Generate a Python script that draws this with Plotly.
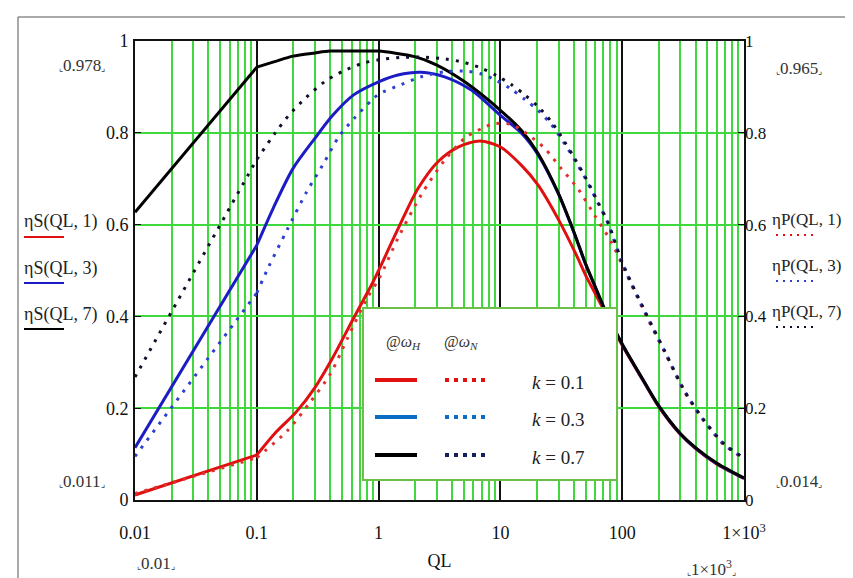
import plotly.graph_objects as go

# ---------------- data ----------------
ql_s1 = [0.01, 0.1, 0.144, 0.211, 0.3, 0.42, 0.62, 0.9, 1.0, 1.44, 2.1, 3.07, 4.5, 6.8, 10, 14.9, 20.4, 29.7, 43.4, 50, 60, 72, 100, 150, 200, 300, 400, 600, 1000]
eta_s1 = [0.011, 0.098, 0.148, 0.192, 0.245, 0.31, 0.395, 0.475, 0.50, 0.59, 0.678, 0.737, 0.769, 0.782, 0.769, 0.729, 0.686, 0.613, 0.526, 0.49, 0.45, 0.41, 0.337, 0.258, 0.203, 0.143, 0.112, 0.078, 0.047]

ql_s3 = [0.01, 0.1, 0.136, 0.198, 0.3, 0.42, 0.62, 1.0, 1.44, 2.24, 3.48, 5.77, 10, 14.9, 20.4, 29.7, 40, 50, 60, 72, 100, 150, 200, 300, 400, 600, 1000]
eta_s3 = [0.114, 0.555, 0.635, 0.722, 0.788, 0.838, 0.882, 0.911, 0.926, 0.932, 0.922, 0.893, 0.838, 0.799, 0.752, 0.669, 0.584, 0.514, 0.464, 0.414, 0.339, 0.259, 0.204, 0.144, 0.113, 0.079, 0.047]

ql_s7 = [0.01, 0.1, 0.14, 0.198, 0.3, 0.4, 0.9, 1.0, 1.98, 2.98, 5.09, 10, 14.9, 20.4, 29.7, 40, 50, 60, 72, 100, 150, 200, 300, 400, 600, 1000]
eta_s7 = [0.627, 0.943, 0.955, 0.967, 0.974, 0.978, 0.978, 0.978, 0.966, 0.948, 0.911, 0.849, 0.805, 0.755, 0.67, 0.585, 0.515, 0.465, 0.415, 0.34, 0.26, 0.205, 0.145, 0.114, 0.08, 0.048]

ql_p1 = [0.01, 0.1, 0.18, 0.272, 0.40, 0.561, 0.794, 1.02, 1.44, 2.24, 3.48, 5.09, 6.97, 9.0, 12.3, 16.9, 23.1, 31.6, 43.4, 59.4, 81.4, 100, 153, 223, 326, 475, 693, 1000]
eta_p1 = [0.014, 0.092, 0.152, 0.212, 0.274, 0.355, 0.437, 0.485, 0.57, 0.665, 0.74, 0.788, 0.809, 0.82, 0.818, 0.796, 0.766, 0.722, 0.678, 0.62, 0.562, 0.512, 0.408, 0.322, 0.235, 0.170, 0.119, 0.090]

ql_p3 = [0.01, 0.1, 0.124, 0.177, 0.255, 0.35, 0.473, 0.637, 0.87, 1.0, 1.53, 2.24, 3.48, 5.42, 7.0, 9.25, 12.3, 15.8, 20.4, 26.2, 33.7, 40.7, 50.7, 63.2, 76.4, 100, 153, 223, 326, 475, 693, 1000]
eta_p3 = [0.095, 0.451, 0.506, 0.588, 0.670, 0.731, 0.792, 0.833, 0.870, 0.884, 0.905, 0.922, 0.933, 0.934, 0.928, 0.914, 0.895, 0.873, 0.849, 0.818, 0.776, 0.741, 0.697, 0.647, 0.603, 0.516, 0.411, 0.324, 0.237, 0.171, 0.120, 0.091]

ql_p7 = [0.01, 0.1, 0.14, 0.183, 0.252, 0.36, 0.516, 0.734, 1.0, 1.5, 2.2, 3.5, 4.93, 6.97, 9.25, 12.3, 15.8, 20.4, 26.2, 33.7, 40.7, 50.7, 63.2, 76.4, 100, 153, 223, 326, 475, 693, 1000]
eta_p7 = [0.268, 0.742, 0.798, 0.838, 0.876, 0.911, 0.935, 0.951, 0.959, 0.964, 0.965, 0.961, 0.954, 0.941, 0.925, 0.905, 0.883, 0.857, 0.824, 0.780, 0.744, 0.700, 0.649, 0.605, 0.518, 0.412, 0.325, 0.237, 0.172, 0.121, 0.092]

x_tickvals = [0.01, 0.1, 1, 10, 100, 1000]
x_ticktext = ["0.01", "0.1", "1", "10", "100", "1×10<sup>3</sup>"]
y_tickvals = [0, 0.2, 0.4, 0.6, 0.8, 1]
y_ticktext = ["0", "0.2", "0.4", "0.6", "0.8", "1"]
minor_x = [m * 10 ** e for e in range(-2, 3) for m in range(2, 10)]

left_labels = ["ηS(QL, 1)", "ηS(QL, 3)", "ηS(QL, 7)"]
right_labels = ["ηP(QL, 1)", "ηP(QL, 3)", "ηP(QL, 7)"]
k_labels = ["<i>k</i> = 0.1", "<i>k</i> = 0.3", "<i>k</i> = 0.7"]

# ---------------- geometry helpers ----------------
W, H = 853, 578
L, R, T, B = 127, 736, 33, 492
def px(x):
    return (x - L) / (R - L)
def py(y):
    return (B - y) / (B - T)

SERIF = "Liberation Serif, Times New Roman, serif"
RED = "#e01010"
BLUE = "#1c1cc4"
BLACK = "#000000"
GREEN = "#3fd83f"

fig = go.Figure()
solid = [(ql_s1, eta_s1, RED, "ηS(QL,1)"), (ql_s3, eta_s3, BLUE, "ηS(QL,3)"), (ql_s7, eta_s7, BLACK, "ηS(QL,7)")]
dotted = [(ql_p1, eta_p1, "#e03030", "ηP(QL,1)"), (ql_p3, eta_p3, "#2f3fd0", "ηP(QL,3)"), (ql_p7, eta_p7, "#101028", "ηP(QL,7)")]
for q, e, c, n in dotted:
    ln = dict(color=c, width=3, dash="3px,7px")
    # straight first segment (0.01 -> 0.1), smooth remainder
    fig.add_trace(go.Scatter(x=q[:2], y=e[:2], mode="lines", name=n, yaxis="y2", line=ln))
    fig.add_trace(go.Scatter(x=q[1:], y=e[1:], mode="lines", name=n, yaxis="y2",
                             line=dict(ln, shape="spline", smoothing=0.8)))
for q, e, c, n in solid:
    ln = dict(color=c, width=3)
    fig.add_trace(go.Scatter(x=q[:2], y=e[:2], mode="lines", name=n, line=ln))
    fig.add_trace(go.Scatter(x=q[1:], y=e[1:], mode="lines", name=n,
                             line=dict(ln, shape="spline", smoothing=0.8)))

fig.update_layout(
    width=W, height=H,
    margin=dict(l=L, r=W - R, t=T, b=H - B),
    paper_bgcolor="white", plot_bgcolor="white",
    showlegend=False,
    font=dict(family=SERIF, size=18, color="#111"),
    xaxis=dict(type="log", range=[-2, 3], tickvals=x_tickvals, ticktext=x_ticktext,
               showgrid=True, gridcolor="#111", gridwidth=1.6,
               minor=dict(tickvals=minor_x, showgrid=True, gridcolor=GREEN, gridwidth=1.8, ticks=""),
               showline=True, linecolor="#111", linewidth=1.6, mirror=True,
               ticks="", ticklabelstandoff=16, zeroline=False,
               title=dict(text="QL", standoff=12, font=dict(size=18))),
    yaxis=dict(range=[0, 1], tickvals=y_tickvals, ticktext=y_ticktext,
               showgrid=True, gridcolor=GREEN, gridwidth=1.8, zeroline=False,
               showline=True, linecolor="#111", linewidth=1.6, mirror=True,
               ticks="inside", ticklen=6, tickcolor="#111", ticklabelstandoff=1),
    yaxis2=dict(range=[0, 1], tickvals=y_tickvals, ticktext=y_ticktext, overlaying="y", side="right",
                showgrid=False, zeroline=False, ticks="inside", ticklen=6, tickcolor="#111",
                ticklabelstandoff=0, tickfont=dict(size=17)),
)

shapes = []
annos = []
# outer frame (right/bottom edges run off the canvas)
shapes.append(dict(type="rect", xref="paper", yref="paper", x0=px(10), x1=px(870), y0=py(600), y1=py(9),
                   line=dict(color="#555", width=1), fillcolor="rgba(0,0,0,0)", layer="below"))
# inner legend box
shapes.append(dict(type="rect", xref="paper", yref="paper", x0=px(355), x1=px(609), y0=py(472), y1=py(300),
                   line=dict(color="#6cc04a", width=2), fillcolor="white", layer="above"))
leg_solid = [RED, "#0a6cc4", BLACK]
leg_dot = [RED, "#0a6cc4", "#15205a"]
ys = [372, 409, 447]
for i in range(3):
    shapes.append(dict(type="line", xref="paper", yref="paper", x0=px(367), x1=px(409), y0=py(ys[i]), y1=py(ys[i]),
                       line=dict(color=leg_solid[i], width=4), layer="above"))
    shapes.append(dict(type="line", xref="paper", yref="paper", x0=px(437), x1=px(479), y0=py(ys[i]), y1=py(ys[i]),
                       line=dict(color=leg_dot[i], width=4, dash="4px,5px"), layer="above"))
    annos.append(dict(text=k_labels[i], x=px(522), y=py(ys[i] + 2), xanchor="left", yanchor="middle",
                      font=dict(size=19, color="#222")))
annos.append(dict(text="@<i>ω</i><sub><i>H</i></sub>", x=px(376), y=py(334), xanchor="left", yanchor="middle",
                  font=dict(size=16, color="#333")))
annos.append(dict(text="@<i>ω</i><sub><i>N</i></sub>", x=px(434), y=py(334), xanchor="left", yanchor="middle",
                  font=dict(size=16, color="#333")))

# outside legends
lt = [216, 262, 308]
lcol = [RED, "#1c1cc4", BLACK]
rcol = [RED, "#2f3fd0", "#101028"]
for i in range(3):
    annos.append(dict(text=left_labels[i], x=px(14), y=py(lt[i] - 2), xanchor="left", yanchor="middle",
                      font=dict(size=18, color="#222")))
    shapes.append(dict(type="line", xref="paper", yref="paper", x0=px(16), x1=px(56), y0=py(lt[i] + 13), y1=py(lt[i] + 13),
                       line=dict(color=lcol[i], width=2)))
    annos.append(dict(text=right_labels[i], x=px(762), y=py(lt[i] - 5), xanchor="left", yanchor="middle",
                      font=dict(size=17, color="#222")))
    shapes.append(dict(type="line", xref="paper", yref="paper", x0=px(768), x1=px(806), y0=py(lt[i] + 11), y1=py(lt[i] + 11),
                       line=dict(color=rcol[i], width=2, dash="2px,5px")))

# range markers
def marker(t):
    return "<span style='font-size:9px'>⌞</span>" + t + "<span style='font-size:9px'>⌟</span>"
for t, x, y in [("0.978", 74, 58), ("0.011", 74, 473), ("0.965", 791, 60), ("0.014", 791, 473),
                ("0.01", 148, 555), ("1×10<sup>3</sup>", 703, 560)]:
    annos.append(dict(text=marker(t), x=px(x), y=py(y), xanchor="center", yanchor="middle",
                      font=dict(size=17, color="#333")))

for a in annos:
    a.update(xref="paper", yref="paper", showarrow=False)
fig.update_layout(shapes=shapes, annotations=annos)
fig.write_html("out.html")
